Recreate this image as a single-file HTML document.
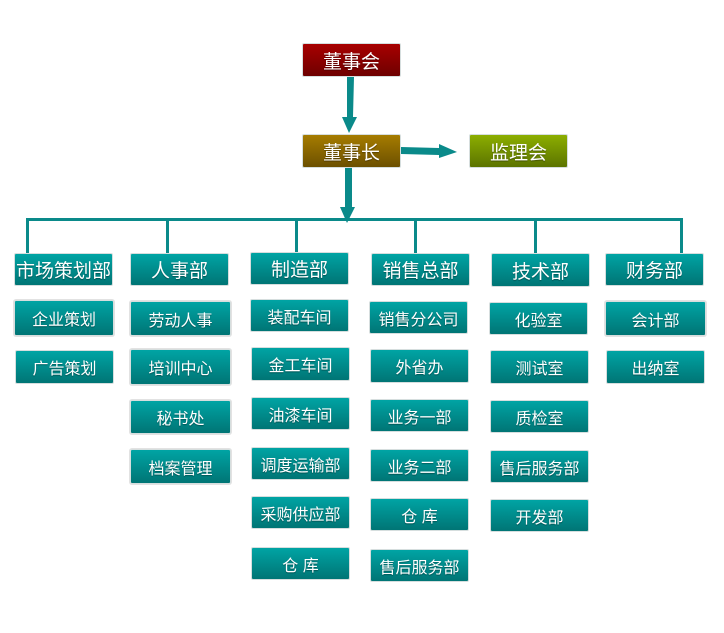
<!DOCTYPE html>
<html>
<head>
<meta charset="utf-8">
<style>
html,body{margin:0;padding:0;background:#fff;}
body{width:724px;height:633px;position:relative;overflow:hidden;font-family:"Liberation Sans","Noto Sans CJK SC",sans-serif;}
.b{position:absolute;box-sizing:border-box;border:1px solid #d6dede;border-radius:2px;background:linear-gradient(to bottom,#00a4a4 0%,#008c8c 50%,#007575 100%);color:#fff;text-align:center;font-size:16px;display:flex;align-items:center;justify-content:center;text-shadow:0 1px 1px rgba(0,0,0,0.35);white-space:nowrap;}
.h{font-size:19px;}
.g{box-shadow:0 0 0 1px #e2e2e2;}
.red{background:linear-gradient(to bottom,#a80000,#6e0000);}
.brn{background:linear-gradient(to bottom,#a67c00,#6c5000);}
.grn{background:linear-gradient(to bottom,#8cae00,#5c7400);}
svg{position:absolute;left:0;top:0;}
</style>
</head>
<body>
<svg width="724" height="633">
  <g fill="#0a8a8a" stroke="none">
    <!-- arrow 1 -->
    <polygon points="347,77 354,77 353,117 357,117 349,133 342,117 347,117"/>
    <!-- arrow 2 -->
    <polygon points="401,147 439,148 439,144 457,152 439,158 439,155 401,154"/>
    <!-- arrow 3 -->
    <polygon points="345,168 352,168 352,207 355,207 347,223 340,207 345,207"/>
    <!-- horizontal bus -->
    <rect x="26" y="218" width="657" height="3"/>
    <rect x="26" y="218" width="3" height="37"/>
    <rect x="166" y="218" width="3" height="37"/>
    <rect x="295" y="218" width="3" height="36"/>
    <rect x="414" y="218" width="3" height="37"/>
    <rect x="534" y="218" width="3" height="37"/>
    <rect x="680" y="218" width="3" height="37"/>
  </g>
</svg>

<div class="b h red" style="left:302px;top:43px;width:99px;height:34px;">董事会</div>
<div class="b h brn" style="left:302px;top:134px;width:99px;height:34px;">董事长</div>
<div class="b h grn" style="left:469px;top:134px;width:99px;height:34px;">监理会</div>

<!-- column 1 -->
<div class="b h" style="left:14px;top:253px;width:99px;height:33px;">市场策划部</div>
<div class="b g" style="left:14px;top:300px;width:100px;height:36px;">企业策划</div>
<div class="b" style="left:15px;top:350px;width:99px;height:34px;">广告策划</div>

<!-- column 2 -->
<div class="b h" style="left:130px;top:253px;width:99px;height:33px;">人事部</div>
<div class="b g" style="left:130px;top:301px;width:101px;height:35px;">劳动人事</div>
<div class="b g" style="left:130px;top:349px;width:101px;height:36px;">培训中心</div>
<div class="b g" style="left:130px;top:400px;width:101px;height:34px;">秘书处</div>
<div class="b g" style="left:130px;top:449px;width:101px;height:35px;">档案管理</div>

<!-- column 3 -->
<div class="b h" style="left:250px;top:252px;width:99px;height:33px;">制造部</div>
<div class="b" style="left:250px;top:299px;width:99px;height:33px;">装配车间</div>
<div class="b" style="left:251px;top:347px;width:99px;height:34px;">金工车间</div>
<div class="b" style="left:251px;top:397px;width:99px;height:33px;">油漆车间</div>
<div class="b" style="left:251px;top:447px;width:99px;height:33px;">调度运输部</div>
<div class="b" style="left:251px;top:496px;width:99px;height:33px;">采购供应部</div>
<div class="b" style="left:251px;top:547px;width:99px;height:33px;">仓 库</div>

<!-- column 4 -->
<div class="b h" style="left:371px;top:253px;width:99px;height:33px;">销售总部</div>
<div class="b" style="left:369px;top:301px;width:99px;height:33px;">销售分公司</div>
<div class="b" style="left:370px;top:349px;width:99px;height:34px;">外省办</div>
<div class="b" style="left:370px;top:399px;width:99px;height:33px;">业务一部</div>
<div class="b" style="left:370px;top:449px;width:99px;height:33px;">业务二部</div>
<div class="b" style="left:370px;top:498px;width:99px;height:33px;">仓 库</div>
<div class="b" style="left:370px;top:549px;width:99px;height:33px;">售后服务部</div>

<!-- column 5 -->
<div class="b h" style="left:491px;top:253px;width:99px;height:34px;">技术部</div>
<div class="b" style="left:489px;top:302px;width:99px;height:33px;">化验室</div>
<div class="b" style="left:490px;top:350px;width:99px;height:34px;">测试室</div>
<div class="b" style="left:490px;top:400px;width:99px;height:33px;">质检室</div>
<div class="b" style="left:490px;top:450px;width:99px;height:33px;">售后服务部</div>
<div class="b" style="left:490px;top:499px;width:99px;height:33px;">开发部</div>

<!-- column 6 -->
<div class="b h" style="left:605px;top:253px;width:99px;height:33px;">财务部</div>
<div class="b g" style="left:605px;top:301px;width:101px;height:35px;">会计部</div>
<div class="b" style="left:606px;top:350px;width:99px;height:34px;">出纳室</div>
</body>
</html>
